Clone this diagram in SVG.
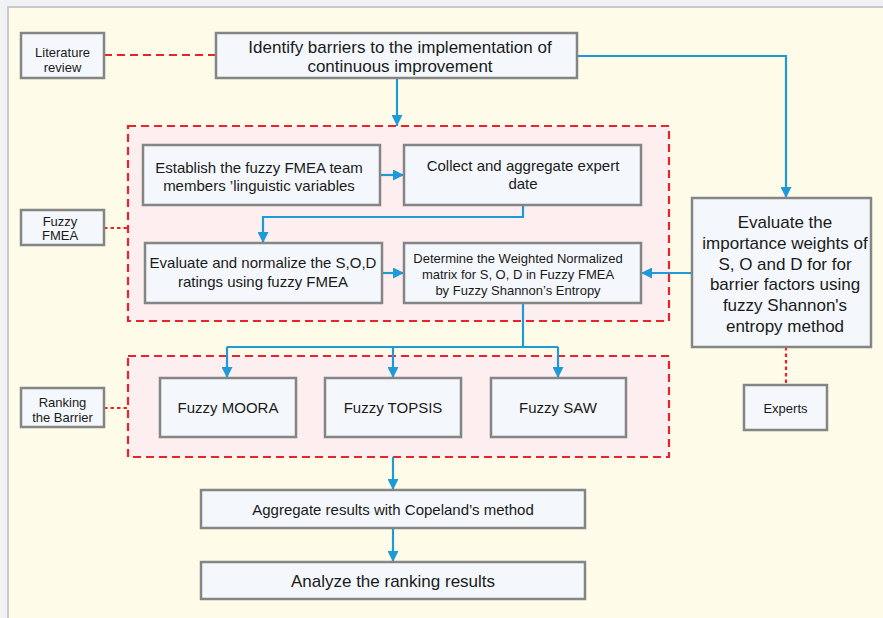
<svg xmlns="http://www.w3.org/2000/svg" width="883" height="618" viewBox="0 0 883 618">
  <defs>
    <marker id="ah" markerUnits="userSpaceOnUse" markerWidth="11" markerHeight="11" refX="11" refY="5.5" orient="auto">
      <path d="M0,0 L11,5.5 L0,11 z" fill="#1e9ad6"/>
    </marker>
    <style>
      .box{fill:#f4f8fc;stroke:#858585;stroke-width:2.5}
      .region{fill:#fdeef0;stroke:#e8232b;stroke-width:2.2;stroke-dasharray:8 5}
      .flow{fill:none;stroke:#1e9ad6;stroke-width:2.2}
      .arr{marker-end:url(#ah)}
      .dash{fill:none;stroke:#e8232b;stroke-width:2.2;stroke-dasharray:8 5}
      .dot{fill:none;stroke:#e8232b;stroke-width:2.2;stroke-dasharray:3.5 3}
      text{font-family:"Liberation Sans",Arial,sans-serif;fill:#1a1a1a;text-anchor:middle}
      .s13{font-size:13px}
      .s15{font-size:15px}
      .s17{font-size:17px}
    </style>
  </defs>
  <rect x="0" y="0" width="883" height="618" fill="#f1f2f3"/>
  <rect x="8" y="7" width="900" height="700" fill="#fefce9" stroke="#c6cbd1" stroke-width="2"/>

  <g id="region-fmea"><rect class="region" x="128" y="126" width="541" height="195"/></g>
  <g id="region-ranking"><rect class="region" x="128" y="356" width="541" height="101"/></g>

  <g id="connectors">
    <line class="dash" x1="104" y1="55" x2="216" y2="55"/>
    <line class="dot" x1="104" y1="228" x2="128" y2="228"/>
    <line class="dot" x1="104" y1="408" x2="128" y2="408"/>
    <line class="dot" x1="786" y1="347" x2="786" y2="385"/>
    <line class="flow arr" x1="397" y1="78" x2="397" y2="126"/>
    <polyline class="flow arr" points="577,56 786,56 786,198"/>
    <line class="flow arr" x1="381" y1="175" x2="404" y2="175"/>
    <polyline class="flow arr" points="523,205 523,217 263,217 263,243"/>
    <line class="flow arr" x1="382" y1="273" x2="404" y2="273"/>
    <line class="flow arr" x1="692" y1="273" x2="641" y2="273"/>
    <polyline class="flow" points="523,303 523,347"/>
    <polyline class="flow" points="227,347 558,347"/>
    <line class="flow arr" x1="227" y1="347" x2="227" y2="378"/>
    <line class="flow arr" x1="393" y1="347" x2="393" y2="378"/>
    <line class="flow arr" x1="558" y1="347" x2="558" y2="378"/>
    <line class="flow arr" x1="393" y1="457" x2="393" y2="490"/>
    <line class="flow arr" x1="393" y1="528" x2="393" y2="562"/>
  </g>

  <g id="literature-review">
    <rect class="box" x="21" y="33" width="83" height="45"/>
    <text class="s13" x="62.5" y="56.5">Literature</text>
    <text class="s13" x="62.5" y="71.5">review</text>
  </g>
  <g id="identify-barriers">
    <rect class="box" x="216" y="33" width="361" height="45"/>
    <text class="s17" x="400" y="53">Identify barriers to the implementation of</text>
    <text class="s17" x="400" y="72">continuous improvement</text>
  </g>
  <g id="fuzzy-fmea-label">
    <rect class="box" x="21" y="210" width="83" height="35"/>
    <text class="s13" x="60" y="226">Fuzzy</text>
    <text class="s13" x="60" y="240">FMEA</text>
  </g>
  <g id="establish">
    <rect class="box" x="143" y="145" width="237" height="60"/>
    <text class="s15" x="259" y="173">Establish the fuzzy FMEA team</text>
    <text class="s15" x="259" y="191">members ’linguistic variables</text>
  </g>
  <g id="collect">
    <rect class="box" x="404" y="145" width="237" height="60"/>
    <text class="s15" x="523" y="171">Collect and aggregate expert</text>
    <text class="s15" x="523" y="189">date</text>
  </g>
  <g id="evaluate-normalize">
    <rect class="box" x="145" y="243" width="237" height="60"/>
    <text class="s15" x="263" y="268">Evaluate and normalize the S,O,D</text>
    <text class="s15" x="263" y="287">ratings using fuzzy FMEA</text>
  </g>
  <g id="determine">
    <rect class="box" x="404" y="243" width="237" height="60"/>
    <text class="s13" x="518" y="262.5">Determine the Weighted Normalized</text>
    <text class="s13" x="518" y="278.5">matrix for S, O, D in Fuzzy FMEA</text>
    <text class="s13" x="518" y="294.5">by Fuzzy Shannon’s Entropy</text>
  </g>
  <g id="importance-weights">
    <rect class="box" x="692" y="198" width="179" height="149"/>
    <text class="s17" x="785" y="228">Evaluate the</text>
    <text class="s17" x="785" y="249">importance weights of</text>
    <text class="s17" x="785" y="270">S, O and D for for</text>
    <text class="s17" x="785" y="290">barrier factors using</text>
    <text class="s17" x="785" y="311">fuzzy Shannon's</text>
    <text class="s17" x="785" y="332">entropy method</text>
  </g>
  <g id="experts">
    <rect class="box" x="744" y="385" width="83" height="45"/>
    <text class="s13" x="785.5" y="412.5">Experts</text>
  </g>
  <g id="ranking-label">
    <rect class="box" x="21" y="388" width="83" height="39"/>
    <text class="s13" x="62.5" y="406.5">Ranking</text>
    <text class="s13" x="62.5" y="421.5">the Barrier</text>
  </g>
  <g id="moora">
    <rect class="box" x="160" y="378" width="136" height="59"/>
    <text class="s15" x="228" y="413">Fuzzy MOORA</text>
  </g>
  <g id="topsis">
    <rect class="box" x="325" y="378" width="136" height="59"/>
    <text class="s15" x="393" y="413">Fuzzy TOPSIS</text>
  </g>
  <g id="saw">
    <rect class="box" x="491" y="378" width="135" height="59"/>
    <text class="s15" x="558" y="413">Fuzzy SAW</text>
  </g>
  <g id="aggregate">
    <rect class="box" x="201" y="490" width="384" height="38"/>
    <text class="s15" x="393" y="515">Aggregate results with Copeland’s method</text>
  </g>
  <g id="analyze">
    <rect class="box" x="201" y="562" width="384" height="37"/>
    <text class="s17" x="393" y="587">Analyze the ranking results</text>
  </g>
</svg>
